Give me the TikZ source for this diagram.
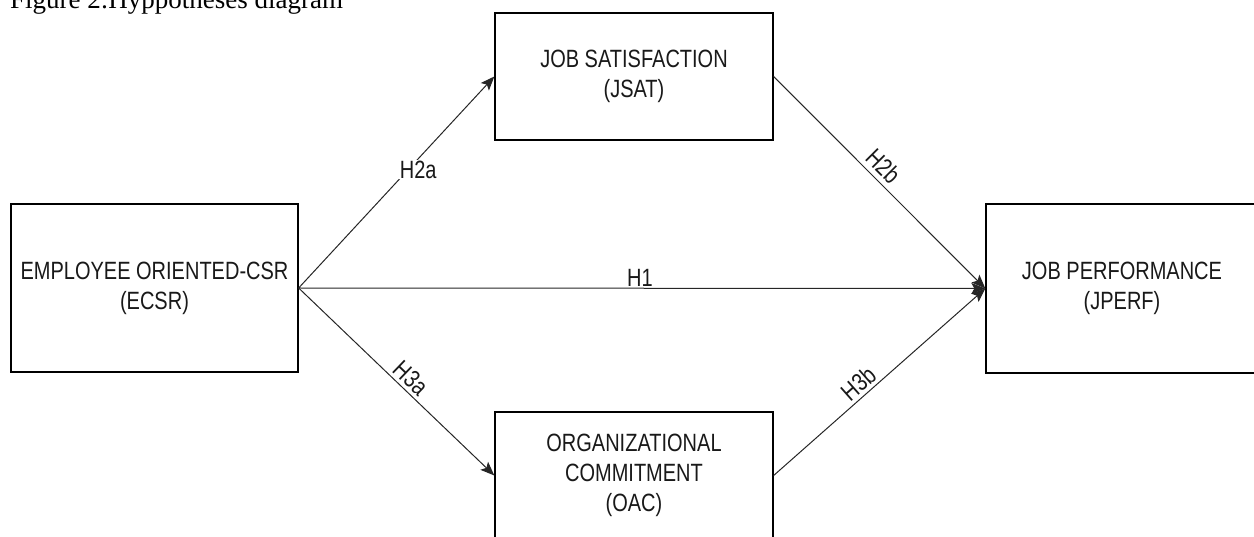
\documentclass[tikz,border=0pt]{standalone}
\usepackage{fontspec}
\setmainfont{Liberation Serif}
\newfontfamily\labfont[FakeStretch=0.8]{Liberation Sans}
\usetikzlibrary{arrows.meta}
\begin{document}
\begin{tikzpicture}[x=1pt,y=-1pt,
  box/.style={draw=black, line width=1.3pt, inner sep=0pt, align=center,
    font=\labfont\fontsize{25}{30}\selectfont, text=black!90},
  conn/.style={draw=black!85, line width=1pt,
    -{Stealth[length=14pt,width=11pt,inset=3pt]}},
  lbl/.style={font=\labfont\fontsize{25}{30}\selectfont, text=black!90}]
\clip (0,0) rectangle (1254,537);
\node[anchor=base west, inner sep=0pt, font=\fontsize{27}{30}\selectfont] (title) at (10,9) {Figure 2:Hyppotheses diagram};
\node[box, minimum width=287pt, minimum height=168pt] (ecsr) at (154.5,288) {EMPLOYEE ORIENTED-CSR\\(ECSR)};
\node[box, minimum width=278pt, minimum height=127pt] (jsat) at (634,76.5) {JOB SATISFACTION\\(JSAT)};
\node[box, minimum width=278pt, minimum height=127pt] (oac) at (634,475.5) {ORGANIZATIONAL\\COMMITMENT\\(OAC)};
\node[box, minimum width=272pt, minimum height=169pt] (jperf) at (1122,288.5) {JOB PERFORMANCE\\(JPERF)};
\draw[conn] (ecsr.east) -- node[lbl, fill=white, inner sep=1pt, pos=0.56, xshift=10pt] {H2a} (jsat.west);
\draw[conn] (ecsr.east) -- node[lbl, above, inner sep=1pt, pos=0.497] {H1} (jperf.west);
\draw[conn] (ecsr.east) -- node[lbl, sloped, above, pos=0.53] {H3a} (oac.west);
\draw[conn] (jsat.east) -- node[lbl, sloped, above, inner sep=5pt, pos=0.47] {H2b} (jperf.west);
\draw[conn] (oac.east) -- node[lbl, sloped, above, pos=0.44] {H3b} (jperf.west);
\end{tikzpicture}
\end{document}
